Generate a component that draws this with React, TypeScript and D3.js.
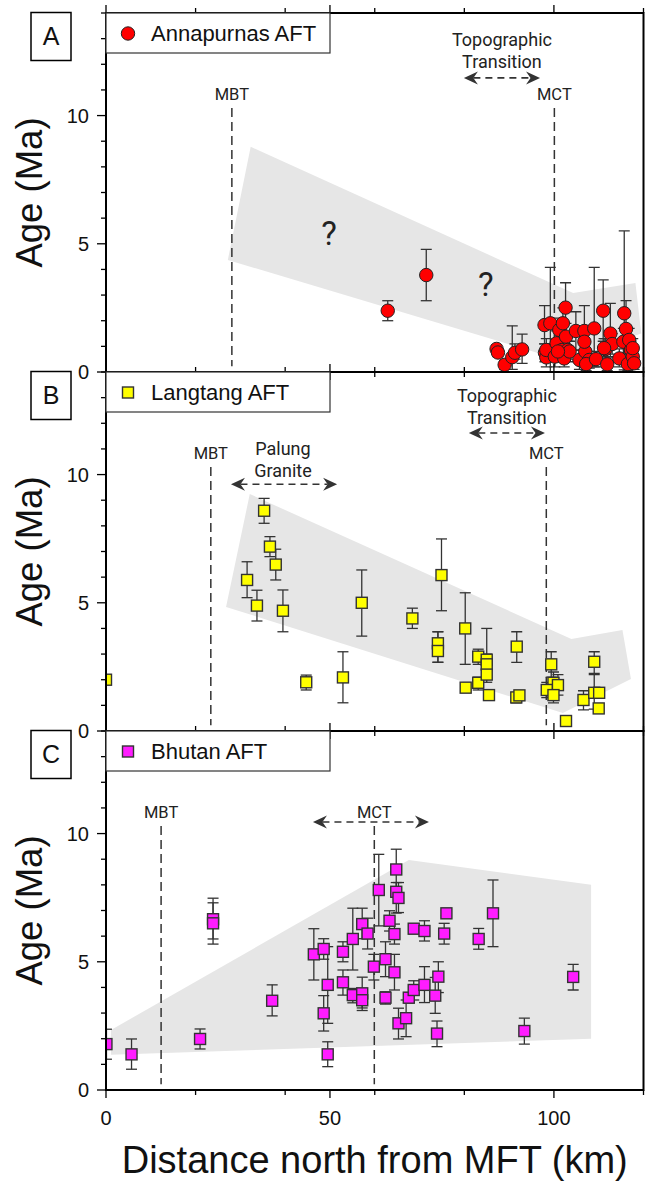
import React from 'react';
import * as d3 from 'd3';

// ---------------- DATA ----------------
// [distance km, age Ma, error low, error high]
const annapurnasAFT: [number, number, number, number][] = [
  [62.9, 2.39, 2.0, 2.78],
  [71.5, 3.78, 2.78, 4.78],
  [87.2, 0.9, 0.75, 1.05],
  [87.5, 0.76, 0.6, 0.9],
  [89.0, 0.28, 0.1, 0.45],
  [90.7, 0.58, 0.1, 1.8],
  [91.3, 0.75, 0.5, 1.1],
  [92.9, 0.88, 0.34, 1.48],
  [97.9, 1.83, 1.1, 2.59],
  [99.2, 1.9, 0.0, 4.08],
  [98.0, 0.75, 0.4, 1.1],
  [98.3, 0.57, 0.2, 0.95],
  [98.3, 0.86, 0.5, 1.3],
  [100.2, 0.6, 0.2, 1.0],
  [100.6, 1.12, 0.4, 1.6],
  [101.2, 1.64, 1.2, 2.1],
  [102.0, 1.9, 1.3, 2.5],
  [102.6, 2.51, 1.55, 3.48],
  [102.7, 1.38, 0.9, 1.9],
  [101.8, 0.86, 0.4, 1.3],
  [103.1, 0.86, 0.5, 1.2],
  [102.3, 0.53, 0.2, 0.85],
  [103.5, 0.8, 0.4, 1.2],
  [104.9, 1.6, 0.85, 2.35],
  [106.8, 1.6, 0.6, 2.59],
  [105.7, 0.47, 0.1, 0.85],
  [107.0, 0.8, 0.4, 1.2],
  [107.9, 0.47, 0.15, 0.8],
  [107.2, 0.31, 0.05, 0.6],
  [109.0, 1.7, 0.2, 4.08],
  [109.4, 0.5, 0.2, 0.8],
  [111.0, 2.39, 1.2, 3.59],
  [111.5, 0.89, 0.5, 1.3],
  [111.9, 0.3, 0.05, 0.55],
  [112.6, 1.5, 0.6, 2.68],
  [113.0, 1.09, 0.7, 1.5],
  [114.6, 0.53, 0.2, 0.9],
  [115.5, 1.18, 0.7, 1.7],
  [115.7, 2.29, 0.08, 5.5],
  [116.1, 1.68, 0.6, 2.78],
  [116.5, 0.31, 0.05, 0.6],
  [117.2, 0.86, 0.5, 1.2],
  [117.6, 0.6, 0.3, 0.9],
  [117.9, 0.34, 0.1, 0.6],
  [116.8, 1.25, 0.8, 1.7],
  [100.9, 0.8, 0.4, 1.2],
  [106.8, 1.18, 0.8, 1.6],
  [111.2, 0.93, 0.6, 1.3],
  [117.6, 0.93, 0.6, 1.3],
];

const langtangAFT: [number, number, number, number][] = [
  [0.0, 2.0, 2.0, 2.0],
  [31.5, 5.89, 5.2, 6.6],
  [33.7, 4.89, 4.29, 5.49],
  [35.3, 8.59, 8.1, 9.07],
  [36.6, 7.19, 6.8, 7.58],
  [37.9, 6.49, 5.89, 7.09],
  [39.5, 4.69, 3.87, 5.5],
  [44.7, 1.9, 1.6, 2.18],
  [52.9, 2.09, 1.1, 3.09],
  [57.1, 5.0, 3.7, 6.28],
  [68.4, 4.39, 4.0, 4.79],
  [74.1, 3.42, 2.68, 3.87],
  [74.1, 3.12, 2.68, 3.87],
  [74.9, 6.08, 4.69, 7.49],
  [80.2, 4.0, 2.6, 5.39],
  [80.3, 1.69, 1.69, 1.69],
  [83.1, 2.9, 2.6, 3.19],
  [83.1, 1.88, 1.6, 2.1],
  [85.0, 2.78, 2.5, 3.0],
  [85.0, 2.6, 2.3, 2.9],
  [85.0, 2.2, 1.9, 4.0],
  [85.5, 1.4, 1.4, 1.4],
  [91.7, 3.29, 2.68, 3.87],
  [91.6, 1.31, 1.1, 1.5],
  [92.3, 1.39, 1.2, 1.55],
  [99.4, 2.6, 2.1, 3.09],
  [99.9, 1.88, 1.3, 2.3],
  [100.9, 1.79, 1.4, 2.2],
  [98.4, 1.6, 1.3, 1.9],
  [99.9, 1.4, 1.1, 1.7],
  [102.7, 0.39, 0.39, 0.39],
  [106.6, 1.21, 0.82, 1.57],
  [109.0, 2.7, 2.25, 3.09],
  [109.0, 1.49, 0.85, 2.2],
  [110.1, 1.49, 1.49, 1.49],
  [110.0, 0.88, 0.88, 0.88],
];

const bhutanAFT: [number, number, number, number][] = [
  [0.1, 1.79, 1.2, 2.37],
  [5.7, 1.39, 0.81, 1.99],
  [21.0, 1.99, 1.6, 2.38],
  [23.9, 6.66, 5.89, 7.3],
  [23.9, 6.5, 5.69, 7.48],
  [37.1, 3.48, 2.89, 4.1],
  [46.4, 5.29, 4.29, 6.29],
  [48.6, 5.5, 5.1, 5.9],
  [48.6, 2.99, 2.3, 3.68],
  [49.5, 4.1, 2.6, 5.59],
  [49.5, 1.39, 0.91, 1.88],
  [52.9, 5.39, 5.0, 5.78],
  [52.9, 4.2, 3.7, 4.68],
  [55.1, 5.89, 4.68, 7.09],
  [55.1, 3.7, 3.4, 3.96],
  [57.2, 6.47, 5.9, 7.09],
  [57.2, 3.77, 3.2, 4.4],
  [57.2, 3.5, 3.1, 3.9],
  [58.4, 6.1, 5.5, 6.7],
  [59.8, 4.81, 4.29, 5.29],
  [60.9, 7.8, 6.4, 9.19],
  [62.4, 5.1, 4.42, 5.78],
  [62.4, 3.6, 3.35, 3.83],
  [63.3, 6.6, 6.2, 6.99],
  [64.4, 6.08, 5.69, 6.47],
  [64.4, 4.59, 3.9, 5.29],
  [64.8, 8.6, 7.8, 9.39],
  [64.8, 7.73, 6.9, 8.09],
  [65.3, 7.49, 6.92, 8.09],
  [65.3, 2.6, 1.99, 3.19],
  [67.0, 2.8, 2.08, 3.51],
  [67.6, 3.6, 3.4, 3.8],
  [68.7, 3.9, 3.51, 4.26],
  [68.7, 6.29, 6.29, 6.29],
  [71.1, 6.2, 5.81, 6.6],
  [71.1, 4.1, 3.41, 4.81],
  [73.5, 3.68, 2.99, 4.39],
  [74.2, 4.42, 3.8, 5.0],
  [73.9, 2.2, 1.69, 2.69],
  [75.5, 6.1, 5.69, 6.5],
  [76.0, 6.89, 6.8, 7.0],
  [83.2, 5.89, 5.49, 6.3],
  [86.4, 6.89, 5.59, 8.19],
  [93.4, 2.3, 1.79, 2.8],
  [104.3, 4.41, 3.9, 4.9],
];

// gray envelopes [km, age]
const bandA: [number, number][] = [[27.2, 4.37], [32.3, 8.78], [104.3, 3.08], [118.2, 3.47], [119.5, 1.5], [102, 0.45]];
const bandB: [number, number][] = [[26.8, 4.84], [32.1, 9.24], [103.9, 3.59], [115.3, 3.94], [117.2, 2.03], [102, 0.7]];
const bandC: [number, number][] = [[1.1, 2.34], [67.6, 8.97], [108.3, 8.0], [108.3, 2.0], [1.1, 1.37]];

// faults [name, km]
const faultsA: [string, number][] = [['MBT', 28.1], ['MCT', 100.1]];
const faultsB: [string, number][] = [['MBT', 23.4], ['MCT', 98.3]];
const faultsC: [string, number][] = [['MBT', 12.3], ['MCT', 59.9]];

const xMajorTicks = [0, 50, 100];
const xMinorTicks = [20, 40, 60, 80, 120];
const xTickLabels = ['0', '50', '100'];
const yTicks = d3.range(0, 15);
const yMajorTicks = [0, 5, 10];
const yTickLabels = ['0', '5', '10'];

// ---------------- LAYOUT ----------------
const W = 645, H = 1181;
const L = 106, R = 643.5;
const TOPS = [13, 372, 731];
const PH = 359;
const x = d3.scaleLinear().domain([0, 120]).range([L, R]);
const SANS = '"Liberation Sans", Arial, Helvetica, sans-serif';
const ANN = 'Roboto, "Noto Sans", sans-serif';
const INK = '#222';

function DArrow({ x1, x2, y }: { x1: number; x2: number; y: number }) {
  const hl = 14, hw = 6.5, notch = 9.5;
  return (
    <g>
      <line x1={x1 + notch} x2={x2 - notch} y1={y} y2={y} stroke="#333" strokeWidth={1.6} strokeDasharray="7,5" />
      <path d={`M${x1},${y} L${x1 + hl},${y - hw} L${x1 + notch},${y} L${x1 + hl},${y + hw} Z`} fill="#333" />
      <path d={`M${x2},${y} L${x2 - hl},${y - hw} L${x2 - notch},${y} L${x2 - hl},${y + hw} Z`} fill="#333" />
    </g>
  );
}

type PanelProps = {
  i: number;
  letter: string;
  label: string;
  data: [number, number, number, number][];
  band: [number, number][];
  faults: [string, number][];
  marker: 'circle' | 'square';
  color: string;
  children?: (y: d3.ScaleLinear<number, number>) => React.ReactNode;
};

function Panel({ i, letter, label, data, band, faults, marker, color, children }: PanelProps) {
  const top = TOPS[i];
  const bottom = top + PH;
  const y = d3.scaleLinear().domain([0, 14]).range([bottom, top]);
  const line = d3.line<[number, number]>().x(d => x(d[0])).y(d => y(d[1]));
  const clipId = `clip${i}`;
  const half = 5.5;
  return (
    <g>
      <defs>
        <clipPath id={clipId}>
          <rect x={L} y={top} width={R - L} height={PH} />
        </clipPath>
      </defs>
      <path d={line(band) + 'Z'} fill="#e6e6e6" />
      {faults.map(([name, km]) => (
        <g key={name}>
          <line x1={x(km)} x2={x(km)} y1={y(10.3)} y2={y(0.22)} stroke="#333" strokeWidth={1.5} strokeDasharray="9,5" />
          <text x={x(km)} y={y(10.62)} textAnchor="middle" fontFamily={ANN} fontSize={16.5} fill={INK}>{name}</text>
        </g>
      ))}
      {children && children(y)}
      <g clipPath={`url(#${clipId})`}>
        {data.map((d, k) => (
          d[3] - d[2] > 0.05 ? (
            <g key={'e' + k} stroke="#333" strokeWidth={1.3}>
              <line x1={x(d[0])} x2={x(d[0])} y1={y(d[2])} y2={y(d[3])} />
              <line x1={x(d[0]) - half} x2={x(d[0]) + half} y1={y(d[2])} y2={y(d[2])} />
              <line x1={x(d[0]) - half} x2={x(d[0]) + half} y1={y(d[3])} y2={y(d[3])} />
            </g>
          ) : null
        ))}
        {data.map((d, k) => marker === 'circle' ? (
          <circle key={'m' + k} cx={x(d[0])} cy={y(d[1])} r={6.7} fill={color} stroke="#222" strokeWidth={1} />
        ) : (
          <rect key={'m' + k} x={x(d[0]) - 5.5} y={y(d[1]) - 5.5} width={11} height={11} fill={color} stroke="#333" strokeWidth={1.4} />
        ))}
      </g>
      {/* frame */}
      <rect x={L} y={top} width={R - L} height={PH} fill="none" stroke="#000" strokeWidth={2} />
      {/* y ticks */}
      {yTicks.map(t => (
        <line key={'yt' + t} x1={L} x2={L - (yMajorTicks.includes(t) ? 9 : 5)} y1={y(t)} y2={y(t)} stroke="#000" strokeWidth={1.3} />
      ))}
      {yMajorTicks.map((t, k) => (
        <text key={'yl' + t} x={89} y={y(t)} dy="0.36em" textAnchor="end" fontFamily={SANS} fontSize={20} fill="#111">{yTickLabels[k]}</text>
      ))}
      {/* x ticks top & bottom */}
      {[...xMajorTicks, ...xMinorTicks].map(t => {
        const len = xMajorTicks.includes(t) ? 8 : 5;
        return (
          <g key={'xt' + t} stroke="#000" strokeWidth={1.3}>
            <line x1={x(t)} x2={x(t)} y1={top} y2={top - len} />
            <line x1={x(t)} x2={x(t)} y1={bottom} y2={bottom + len} />
          </g>
        );
      })}
      {/* legend */}
      <rect x={L} y={top} width={330 - L} height={40} fill="#fff" stroke="#333" strokeWidth={1.2} />
      {marker === 'circle' ? (
        <circle cx={128} cy={top + 20.5} r={6.7} fill={color} stroke="#222" strokeWidth={1} />
      ) : (
        <rect x={128 - 5.5} y={top + 20.5 - 5.5} width={11} height={11} fill={color} stroke="#333" strokeWidth={1.4} />
      )}
      <text x={151} y={top + 28} fontFamily={SANS} fontSize={22} fill="#111">{label}</text>
      {/* panel letter */}
      <rect x={31} y={top - 0.5} width={40} height={48} fill="#fff" stroke="#000" strokeWidth={1.5} />
      <text x={51} y={top + 32} textAnchor="middle" fontFamily={SANS} fontSize={25} fill="#111">{letter}</text>
      {/* y axis title */}
      <text transform={`translate(42,${(top + bottom) / 2}) rotate(-90)`} textAnchor="middle" fontFamily={SANS} fontSize={36.5} fill="#111">Age (Ma)</text>
    </g>
  );
}

export default function App() {
  const bottomC = TOPS[2] + PH;
  return (
    <svg width={W} height={H} viewBox={`0 0 ${W} ${H}`} style={{ position: 'absolute', left: 0, top: 0, background: '#fff' }}>
      <rect x={0} y={0} width={W} height={H} fill="#fff" />
      <Panel i={0} letter="A" label="Annapurnas AFT" data={annapurnasAFT} band={bandA} faults={faultsA} marker="circle" color="#ff0000">
        {(y) => (
          <g>
            <text x={x(88.4)} y={y(12.71)} textAnchor="middle" fontFamily={ANN} fontSize={18} fill={INK}>Topographic</text>
            <text x={x(88.4)} y={y(11.86)} textAnchor="middle" fontFamily={ANN} fontSize={18} fill={INK}>Transition</text>
            <DArrow x1={x(79.9)} x2={x(96.9)} y={y(11.47)} />
            <text x={x(49.8)} y={y(4.95)} textAnchor="middle" fontFamily={ANN} fontSize={33} fill={INK}>?</text>
            <text x={x(84.8)} y={y(2.96)} textAnchor="middle" fontFamily={ANN} fontSize={33} fill={INK}>?</text>
          </g>
        )}
      </Panel>
      <Panel i={1} letter="B" label="Langtang AFT" data={langtangAFT} band={bandB} faults={faultsB} marker="square" color="#ffff00">
        {(y) => (
          <g>
            <text x={x(89.5)} y={y(12.83)} textAnchor="middle" fontFamily={ANN} fontSize={18} fill={INK}>Topographic</text>
            <text x={x(89.5)} y={y(11.97)} textAnchor="middle" fontFamily={ANN} fontSize={18} fill={INK}>Transition</text>
            <DArrow x1={x(81)} x2={x(98)} y={y(11.62)} />
            <text x={x(39.5)} y={y(10.76)} textAnchor="middle" fontFamily={ANN} fontSize={18} fill={INK}>Palung</text>
            <text x={x(39.5)} y={y(9.9)} textAnchor="middle" fontFamily={ANN} fontSize={18} fill={INK}>Granite</text>
            <DArrow x1={x(27.9)} x2={x(51.6)} y={y(9.62)} />
          </g>
        )}
      </Panel>
      <Panel i={2} letter="C" label="Bhutan AFT" data={bhutanAFT} band={bandC} faults={faultsC} marker="square" color="#ff1cff">
        {(y) => (
          <g>
            <DArrow x1={x(46.2)} x2={x(72.1)} y={y(10.45)} />
          </g>
        )}
      </Panel>
      {xMajorTicks.map((t, k) => (
        <text key={'xl' + t} x={x(t)} y={bottomC + 35} textAnchor="middle" fontFamily={SANS} fontSize={20} fill="#111">{xTickLabels[k]}</text>
      ))}
      <text x={(L + R) / 2} y={1173} textAnchor="middle" fontFamily={SANS} fontSize={38} fill="#111">Distance north from MFT (km)</text>
    </svg>
  );
}
